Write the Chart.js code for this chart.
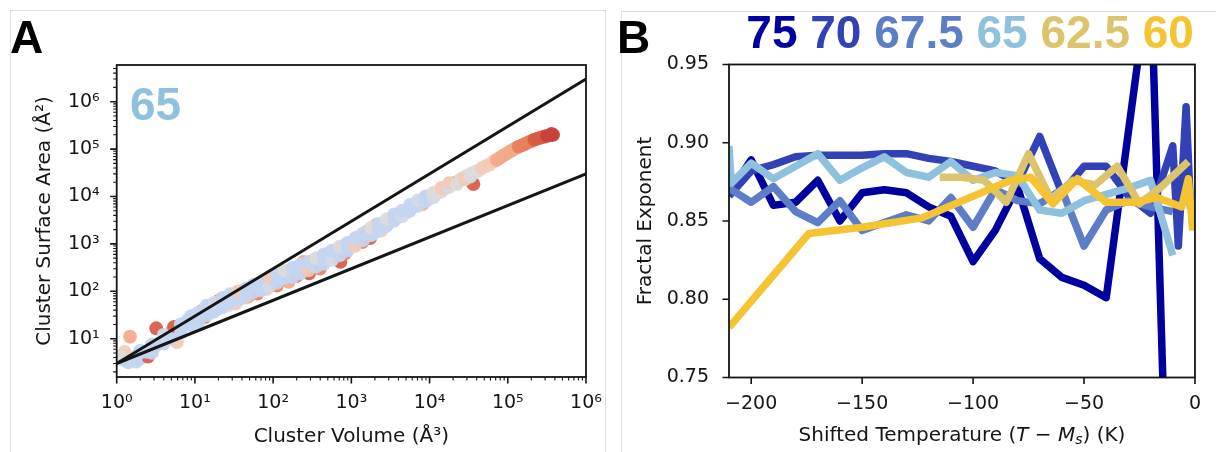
<!DOCTYPE html>
<html>
<head>
<meta charset="utf-8">
<script src="https://cdn.jsdelivr.net/npm/chart.js@4.4.1/dist/chart.umd.min.js"></script>
<style>
  html, body { margin: 0; padding: 0; background: #fff; }
  #stage { position: relative; width: 1216px; height: 452px; overflow: hidden; background: #fff; }
  #stage canvas { position: absolute; left: 0; top: 0; }
  .frame { position: absolute; border: 1px solid #dedede; }
</style>
</head>
<body>
<div id="stage">
  <div class="frame" style="left:10px;top:10px;width:594px;height:470px"></div>
  <div class="frame" style="left:621px;top:11px;width:620px;height:470px"></div>
  <canvas id="panelA" width="1216" height="452"></canvas>
  <canvas id="panelB" width="1216" height="452"></canvas>
</div>
<script>
// ---------- Panel A: cluster surface area vs. cluster volume (composition 65) ----------
const clusterVolume = [
  1.26, 1.41, 1.58, 1.78, 2.0, 2.24, 1.26, 2.51, 1.48, 3.2,
  1.12, 1.9, 2.4, 2.82, 3.16, 3.55, 3.98, 4.47, 5.01, 5.25,
  5.9, 5.62, 6.31, 5.4, 7.08, 7.94, 8.3, 8.9, 10, 10.5,
  11.2, 12, 12.6, 13.2, 14.1, 15.1, 15.8, 16.6, 17.8, 19,
  20, 20.9, 22.4, 24, 25.1, 26.3, 28.2, 30.2, 31.6, 33.1,
  35.5, 38, 39.8, 42.7, 44.7, 47.9, 50, 52.5, 56.2, 60,
  63, 66, 70.8, 75.9, 79.4, 83, 89, 95.5, 100, 107,
  112, 120, 126, 135, 141, 151, 158, 166, 178, 191,
  200, 214, 229, 245, 251, 269, 288, 302, 316, 331,
  355, 380, 398, 417, 447, 479, 501, 537, 562, 603,
  724, 661, 708, 759, 794, 832, 891, 955, 1000, 1072,
  1148, 1202, 1288, 1380, 1479, 1585, 1660, 1738, 1820, 1950,
  2089, 2239, 2399, 2570, 2754, 2951, 3162, 3467, 3802, 4169,
  4571, 5012, 5370, 5888, 6310, 6918, 7586, 8128, 8710, 9550,
  10470, 11480, 12590, 13800, 15140, 16600, 18200, 19950, 22390, 25120,
  27540, 30200, 36310, 33880, 38020, 41690, 46770, 52480, 58880, 66070,
  72440, 79430, 87100, 95500, 104700, 114800, 125900, 138000, 151400, 166000,
  182000, 199500, 218800, 239900, 263000, 288400, 316200, 346700, 380000, 363100,
  2.0, 2.82, 2.82, 3.98, 3.98, 4.79, 6.6, 6.6, 8.9, 8.9,
  11.2, 11.2, 14.1, 14.1, 17.8, 17.8, 22.4, 22.4, 28.2, 28.2,
  35.5, 35.5, 44.7, 44.7, 56.2, 56.2, 70.8, 70.8, 89, 89,
  112, 112, 141, 141, 178, 178, 224, 224, 282, 282,
  355, 355, 447, 447, 562, 562, 708, 708, 891, 891,
  1122, 1122, 1413, 1413, 1778, 1778, 2239, 2239, 2818, 2818,
  3548, 3548, 4467, 4467, 5623, 5623, 7079, 7079, 8913, 8913,
  11220, 11220, 14130, 14130, 17780, 17780, 22390, 28180, 33110
];
const clusterArea = [
  3.55, 3.16, 3.98, 3.3, 3.8, 4.17, 5.25, 4.17, 11, 16.6,
  4.17, 4.8, 5.25, 6.03, 7.08, 8.3, 10.5, 11.5, 14.1, 10,
  8.5, 13.2, 15.8, 17.8, 19, 21.4, 26.3, 24, 28.2, 33,
  25.1, 38, 33, 28.2, 39.8, 44.7, 35.5, 52.5, 47.9, 41.7,
  63, 55, 45.7, 66, 60, 50, 72.4, 63, 83, 55,
  79.4, 89, 70.8, 105, 91, 75.9, 115, 100, 126, 110,
  89, 138, 120, 158, 141, 112, 174, 151, 190, 166,
  132, 200, 229, 182, 240, 200, 158, 263, 229, 282,
  209, 302, 263, 417, 331, 302, 240, 380, 437, 347,
  457, 398, 302, 501, 437, 575, 479, 631, 525, 692,
  417, 603, 794, 724, 912, 631, 832, 1047, 912, 1148,
  1000, 1380, 1259, 1096, 1514, 1820, 1380, 1318, 1995, 1660,
  2512, 2188, 1905, 2399, 2884, 2630, 3162, 3020, 3715, 3802,
  4365, 4571, 5012, 6026, 6310, 7244, 7943, 6918, 9120, 8710,
  10000, 10960, 12020, 13180, 14450, 16600, 18200, 19050, 19950, 22910,
  25120, 27540, 18200, 30200, 33110, 34670, 39810, 43650, 47860, 54950,
  58880, 66070, 72440, 79430, 87100, 95500, 104700, 112200, 120200, 128800,
  138000, 147900, 158500, 166000, 173800, 182000, 190500, 195000, 199500, 208900,
  5.6, 7.6, 5.0, 7.9, 12, 10, 13.2, 20, 19, 30,
  35.5, 22.4, 31.6, 50, 38, 57.5, 50, 72.4, 57.5, 87,
  66, 100, 79.4, 115, 95.5, 138, 105, 158, 126, 200,
  151, 219, 191, 275, 200, 316, 240, 363, 275, 417,
  331, 501, 380, 603, 457, 724, 575, 871, 724, 1047,
  912, 1318, 1202, 1660, 1514, 2188, 1905, 2630, 2399, 3311,
  3162, 4169, 3802, 5012, 5012, 6607, 6310, 8318, 7943, 10000,
  9550, 12020, 12590, 15140, 15850, 19050, 18200, 22910, 26300
];
// colour class of each cluster (0 = cool ... 7 = warm)
const clusterShade = [
  0, 0, 1, 0, 0, 0, 3, 6, 4, 6,
  2, 0, 0, 1, 0, 0, 0, 0, 4, 3,
  3, 0, 0, 6, 0, 1, 0, 0, 0, 0,
  3, 4, 0, 5, 0, 1, 0, 0, 0, 0,
  5, 0, 0, 0, 0, 2, 0, 0, 4, 3,
  0, 0, 1, 0, 0, 4, 0, 0, 0, 0,
  5, 0, 1, 0, 0, 3, 0, 0, 4, 0,
  5, 0, 0, 1, 0, 0, 4, 0, 0, 0,
  5, 0, 0, 4, 0, 0, 6, 1, 0, 0,
  0, 2, 5, 0, 0, 0, 3, 4, 0, 0,
  6, 0, 3, 0, 0, 5, 1, 0, 0, 0,
  2, 3, 0, 5, 0, 4, 1, 6, 0, 2,
  4, 0, 3, 2, 0, 0, 0, 2, 3, 0,
  0, 3, 0, 0, 1, 0, 0, 4, 0, 3,
  1, 2, 4, 2, 4, 3, 2, 3, 4, 2,
  3, 2, 6, 2, 2, 2, 3, 3, 3, 3,
  4, 4, 4, 4, 4, 4, 4, 5, 5, 5,
  5, 5, 6, 6, 6, 6, 7, 7, 7, 7,
  0, 0, 0, 0, 1, 0, 0, 0, 0, 0,
  0, 0, 0, 0, 0, 1, 0, 0, 0, 0,
  0, 3, 0, 0, 0, 0, 0, 0, 1, 3,
  0, 0, 0, 2, 0, 0, 0, 0, 3, 0,
  0, 2, 0, 0, 1, 0, 0, 2, 0, 0,
  3, 0, 0, 0, 0, 2, 0, 0, 0, 2,
  0, 0, 1, 0, 0, 0, 0, 1, 0, 0,
  1, 2, 2, 3, 1, 3, 2, 3, 2
];
// reference scaling lines: A = 3 V and A = 3 V^(2/3)
const guideVolume = [1, 1e6];
const guideAreaLinear = [3, 3e6];
const guideAreaSphere = [3, 3e4];

const volumeTicks = [1, 10, 100, 1e3, 1e4, 1e5, 1e6];
const volumeTickLabels = ['10⁰', '10¹', '10²', '10³', '10⁴', '10⁵', '10⁶'];
const areaTicks = [10, 100, 1e3, 1e4, 1e5, 1e6];
const areaTickLabels = ['10¹', '10²', '10³', '10⁴', '10⁵', '10⁶'];

// ---------- Panel B: fractal exponent vs. shifted temperature ----------
const compositionLabels = ['75', '70', '67.5', '65', '62.5', '60'];
const temp75 = [-210, -200, -190, -180, -170, -160, -150, -140, -130, -120, -110, -100, -90, -80, -70, -60, -50, -40, -20, -10];
const expo75 = [0.868, 0.889, 0.860, 0.862, 0.876, 0.850, 0.868, 0.870, 0.868, 0.859, 0.853, 0.824, 0.844, 0.872, 0.826, 0.814, 0.809, 0.801, 1.013, 0.535];
const temp70 = [-210, -200, -190, -180, -170, -160, -150, -140, -130, -120, -110, -100, -90, -80, -70, -60, -50, -40, -30, -20, -10, -7.5, -4, -2];
const expo70 = [0.866, 0.882, 0.886, 0.891, 0.892, 0.892, 0.892, 0.893, 0.893, 0.890, 0.888, 0.885, 0.882, 0.874, 0.904, 0.868, 0.885, 0.885, 0.866, 0.855, 0.898, 0.834, 0.923, 0.858];
const temp675 = [-210, -200, -190, -180, -170, -160, -150, -140, -130, -120, -110, -100, -90, -80, -70, -60, -50, -40, -30, -20, -10];
const expo675 = [0.871, 0.862, 0.872, 0.856, 0.849, 0.863, 0.844, 0.849, 0.854, 0.850, 0.865, 0.846, 0.870, 0.863, 0.861, 0.870, 0.834, 0.857, 0.863, 0.859, 0.856];
const temp65 = [-210, -209, -200, -190, -180, -170, -160, -150, -140, -130, -120, -110, -100, -90, -80, -70, -60, -50, -40, -30, -20, -10];
const expo65 = [0.898, 0.874, 0.887, 0.877, 0.885, 0.893, 0.876, 0.884, 0.891, 0.881, 0.878, 0.888, 0.876, 0.881, 0.879, 0.857, 0.855, 0.863, 0.867, 0.871, 0.876, 0.828];
const temp625 = [-115, -105, -95, -85, -75, -65, -55, -45, -35, -25, -15, -3];
const expo625 = [0.878, 0.878, 0.876, 0.862, 0.893, 0.864, 0.876, 0.873, 0.885, 0.861, 0.872, 0.888];
const temp60 = [-210, -174, -150, -123, -83, -74, -64, -53, -40, -27, -17, -6, -3, -1];
const expo60 = [0.782, 0.842, 0.846, 0.852, 0.876, 0.878, 0.861, 0.877, 0.862, 0.862, 0.865, 0.859, 0.877, 0.844];

const tempTicks = [-200, -150, -100, -50, 0];
const tempTickLabels = ['−200', '−150', '−100', '−50', '0'];
const exponentTicks = [0.75, 0.80, 0.85, 0.90, 0.95];
const exponentTickLabels = ['0.75', '0.80', '0.85', '0.90', '0.95'];

// ---------- styling ----------
const seriesColors = ['#00009e', '#3242b6', '#5d7ec6', '#8fc1df', '#dcc46c', '#f5c432'];
const shadePalette = ['#c4d5f1', '#d3dbe8', '#dddcdb', '#f2cbb8', '#f3a98b', '#e8805f', '#d85b47', '#c7423a'];
const INK = '#151515';
const TICK_FONT = { family: '"DejaVu Sans"', size: 19 };
const TITLE_FONT = { family: '"DejaVu Sans"', size: 20 };
const HEAD_FONT = 'bold 46px "Liberation Sans"';

Chart.defaults.font.family = '"DejaVu Sans"';
Chart.defaults.color = INK;

const pairs = (xs, ys) => xs.map((x, i) => ({ x, y: ys[i] }));

// spines and tick marks drawn from the chart's own scales
const axesFrame = {
  id: 'axesFrame',
  afterDatasetsDraw(chart, args, o) {
    const { ctx, chartArea: a, scales } = chart;
    const xs = scales.x, ys = scales.y;
    ctx.save();
    ctx.strokeStyle = INK;
    const minorList = (scale) => {
      const out = [];
      const lo = Math.floor(Math.log10(scale.min)), hi = Math.ceil(Math.log10(scale.max));
      for (let n = lo; n <= hi; n++) for (let k = 2; k <= 9; k++) {
        const v = k * Math.pow(10, n);
        if (v >= scale.min && v <= scale.max) out.push(v);
      }
      return out;
    };
    const xMarks = (vals, len, w) => {
      ctx.lineWidth = w; ctx.beginPath();
      vals.forEach(v => { const p = xs.getPixelForValue(v); if (p >= a.left - 1 && p <= a.right + 1) { ctx.moveTo(p, a.bottom); ctx.lineTo(p, a.bottom + len); } });
      ctx.stroke();
    };
    const yMarks = (vals, len, w) => {
      ctx.lineWidth = w; ctx.beginPath();
      vals.forEach(v => { const p = ys.getPixelForValue(v); if (p >= a.top - 1 && p <= a.bottom + 1) { ctx.moveTo(a.left, p); ctx.lineTo(a.left - len, p); } });
      ctx.stroke();
    };
    xMarks(o.xMajor, 6.5, 1.6);
    yMarks(o.yMajor, 6.5, 1.6);
    if (o.minor) { xMarks(minorList(xs), 3.5, 1.1); yMarks(minorList(ys), 3.5, 1.1); }
    ctx.lineWidth = 1.8;
    ctx.strokeRect(a.left, a.top, a.right - a.left, a.bottom - a.top);
    ctx.restore();
  }
};

// ---------- Panel A chart ----------
const A = { left: 116.7, right: 586, top: 65, bottom: 377, yW: 83.7, xH: 71.5 };
new Chart(document.getElementById('panelA'), {
  type: 'scatter',
  data: {
    datasets: [
      {
        data: pairs(clusterVolume, clusterArea),
        backgroundColor: clusterShade.map(s => shadePalette[s] + 'ee'),
        borderWidth: 0, pointRadius: 6.9, pointHoverRadius: 6.9, order: 2, clip: 0
      },
      { data: pairs(guideVolume, guideAreaLinear), showLine: true, borderColor: INK, borderWidth: 3, pointRadius: 0, order: 1, clip: 0 },
      { data: pairs(guideVolume, guideAreaSphere), showLine: true, borderColor: INK, borderWidth: 3, pointRadius: 0, order: 1, clip: 0 }
    ]
  },
  options: {
    responsive: false, animation: false, events: [],
    layout: { padding: { left: A.left - A.yW, right: 1216 - A.right, top: A.top, bottom: 452 - A.bottom - A.xH } },
    plugins: {
      legend: { display: false }, tooltip: { enabled: false },
      axesFrame: { xMajor: volumeTicks, yMajor: areaTicks, minor: true }
    },
    scales: {
      x: {
        type: 'logarithmic', min: 1, max: 1e6,
        afterBuildTicks: s => { s.ticks = volumeTicks.map(v => ({ value: v })); },
        afterFit: s => { s.height = A.xH; },
        ticks: { callback: (v, i) => volumeTickLabels[i], font: TICK_FONT, color: INK, padding: 15, maxRotation: 0, minRotation: 0, autoSkip: false },
        grid: { display: false, drawTicks: false, tickLength: 0 }, border: { display: false },
        title: { display: true, text: 'Cluster Volume (Å³)', font: TITLE_FONT, color: INK, padding: 0 }
      },
      y: {
        type: 'logarithmic', min: 1.556, max: 5.94e6,
        afterBuildTicks: s => { s.ticks = areaTicks.map(v => ({ value: v })); },
        afterFit: s => { s.width = A.yW; },
        ticks: { callback: (v, i) => areaTickLabels[i], font: TICK_FONT, color: INK, padding: 17, autoSkip: false },
        grid: { display: false, drawTicks: false, tickLength: 0 }, border: { display: false },
        title: { display: true, text: 'Cluster Surface Area (Å²)', font: TITLE_FONT, color: INK, padding: 0 }
      }
    }
  },
  plugins: [axesFrame, {
    id: 'panelAText',
    afterDraw(chart) {
      const ctx = chart.ctx;
      ctx.save();
      ctx.font = HEAD_FONT; ctx.textBaseline = 'alphabetic'; ctx.textAlign = 'left';
      ctx.fillStyle = '#000'; ctx.fillText('A', 10, 53);
      ctx.fillStyle = seriesColors[3]; ctx.fillText(compositionLabels[3], 130, 120);
      ctx.restore();
    }
  }]
});

// ---------- Panel B chart ----------
const B = { left: 729, right: 1200, top: 64.5, bottom: 377.5, yW: 95.2, xH: 71.5 };
const seriesT = [temp75, temp70, temp675, temp65, temp625, temp60];
const seriesE = [expo75, expo70, expo675, expo65, expo625, expo60];
new Chart(document.getElementById('panelB'), {
  type: 'line',
  data: {
    datasets: compositionLabels.map((lab, k) => ({
      label: lab,
      data: pairs(seriesT[k], seriesE[k]),
      borderColor: seriesColors[k], borderWidth: 7.5, pointRadius: 0,
      borderJoinStyle: 'round', borderCapStyle: 'butt', tension: 0, fill: false,
      order: compositionLabels.length - k, clip: 0
    }))
  },
  options: {
    responsive: false, animation: false, events: [],
    layout: { padding: { left: B.left - B.yW, right: 1216 - B.right, top: B.top, bottom: 452 - B.bottom - B.xH } },
    plugins: {
      legend: { display: false }, tooltip: { enabled: false },
      axesFrame: { xMajor: tempTicks, yMajor: exponentTicks, minor: false }
    },
    scales: {
      x: {
        type: 'linear', min: -210, max: 0,
        afterBuildTicks: s => { s.ticks = tempTicks.map(v => ({ value: v })); },
        afterFit: s => { s.height = B.xH; },
        ticks: { callback: (v, i) => tempTickLabels[i], font: TICK_FONT, color: INK, padding: 15, maxRotation: 0, minRotation: 0, autoSkip: false },
        grid: { display: false, drawTicks: false, tickLength: 0 }, border: { display: false },
        title: { display: false }
      },
      y: {
        type: 'linear', min: 0.75, max: 0.95,
        afterBuildTicks: s => { s.ticks = exponentTicks.map(v => ({ value: v })); },
        afterFit: s => { s.width = B.yW; },
        ticks: { callback: (v, i) => exponentTickLabels[i], font: TICK_FONT, color: INK, padding: 20, autoSkip: false },
        grid: { display: false, drawTicks: false, tickLength: 0 }, border: { display: false },
        title: { display: true, text: 'Fractal Exponent', font: TITLE_FONT, color: INK, padding: 0 }
      }
    }
  },
  plugins: [axesFrame, {
    id: 'panelBText',
    afterDraw(chart) {
      const ctx = chart.ctx, a = chart.chartArea;
      ctx.save();
      ctx.textBaseline = 'alphabetic'; ctx.textAlign = 'left';
      ctx.font = HEAD_FONT; ctx.fillStyle = '#000'; ctx.fillText('B', 617, 53);
      // composition key, right-aligned to the axes
      const parts = compositionLabels.map(t => t);
      const space = ctx.measureText(' ').width;
      const widths = parts.map(t => ctx.measureText(t).width);
      const total = widths.reduce((s, w) => s + w, 0) + space * (parts.length - 1);
      let x = a.right - 1 - total;
      parts.forEach((t, k) => { ctx.fillStyle = seriesColors[k]; ctx.fillText(t, x, 48); x += widths[k] + space; });
      // x-axis title with italic symbols
      const reg = '20px "DejaVu Sans"', ita = 'italic 20px "DejaVu Sans"', sub = 'italic 14px "DejaVu Sans"';
      const runs = [
        { t: 'Shifted Temperature (', f: reg, dy: 0 },
        { t: 'T', f: ita, dy: 0 },
        { t: ' − ', f: reg, dy: 0 },
        { t: 'M', f: ita, dy: 0 },
        { t: 's', f: sub, dy: 4 },
        { t: ') (K)', f: reg, dy: 0 }
      ];
      let w = 0;
      runs.forEach(r => { ctx.font = r.f; r.w = ctx.measureText(r.t).width; w += r.w; });
      let cx = (a.left + a.right) / 2 - w / 2;
      ctx.fillStyle = INK; ctx.textBaseline = 'middle';
      runs.forEach(r => { ctx.font = r.f; ctx.fillText(r.t, cx, 436 + r.dy); cx += r.w; });
      ctx.restore();
    }
  }]
});
</script>
</body>
</html>
